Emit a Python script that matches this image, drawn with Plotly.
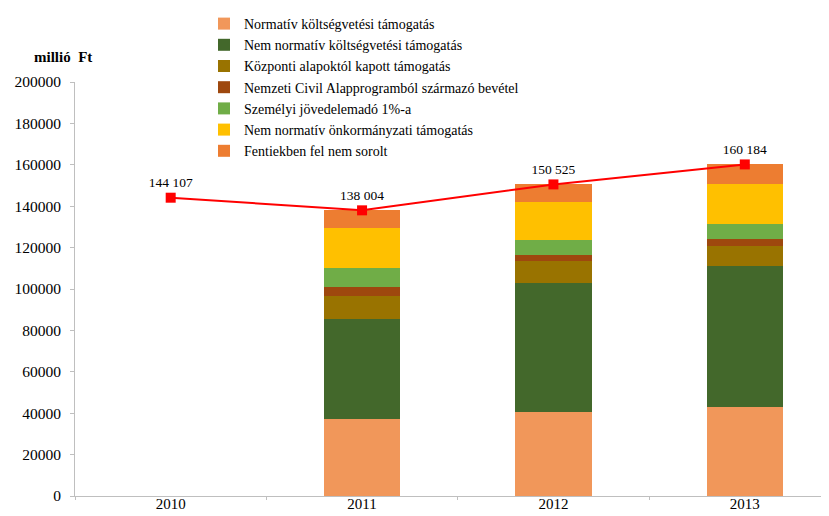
import plotly.graph_objects as go

years = ["2010", "2011", "2012", "2013"]
series_names = [
    "Normatív költségvetési támogatás",
    "Nem normatív költségvetési támogatás",
    "Központi alapoktól kapott támogatás",
    "Nemzeti Civil Alapprogramból származó bevétel",
    "Személyi jövedelemadó 1%-a",
    "Nem normatív önkormányzati támogatás",
    "Fentiekben fel nem sorolt",
]
normativ = [None, 37000, 40400, 43000]
nem_normativ = [None, 48500, 62400, 68100]
kozponti = [None, 11300, 10600, 9800]
nemzeti = [None, 4300, 3000, 3400]
szja = [None, 9200, 7300, 7100]
onkormanyzati = [None, 19000, 18500, 19500]
egyeb = [None, 8704, 8325, 9284]
series_values = [normativ, nem_normativ, kozponti, nemzeti, szja, onkormanyzati, egyeb]
colors = ["#F1975A", "#43682B", "#997300", "#9E480E", "#70AD47", "#FFC000", "#ED7D31"]

totals = [144107, 138004, 150525, 160184]
total_labels = ["144 107", "138 004", "150 525", "160 184"]

FONT = "Liberation Serif, Times New Roman, serif"

fig = go.Figure()
for name, vals, col in zip(series_names, series_values, colors):
    fig.add_trace(go.Bar(x=years, y=vals, name=name, marker=dict(color=col, line=dict(width=0)),
                         width=0.4))

fig.add_trace(go.Scatter(x=years, y=totals, mode="lines+markers+text", showlegend=False,
                         line=dict(color="#FF0000", width=2),
                         marker=dict(symbol="square", size=10, color="#FF0000"),
                         text=total_labels, textposition="top center",
                         textfont=dict(family=FONT, size=13.5, color="#000000")))

# page has an 8px body margin; figure sized so that the plot lands where the reference has it
fig.update_layout(
    barmode="stack",
    width=821, height=508,
    margin=dict(l=67, r=0, t=74, b=20, autoexpand=False),
    plot_bgcolor="white", paper_bgcolor="white",
    font=dict(family=FONT, size=15, color="#000000"),
    legend=dict(x=(204 - 75) / 754, y=1.022, xref="paper", yref="container", xanchor="left", yanchor="top",
                traceorder="normal", font=dict(family=FONT, size=14), bgcolor="rgba(0,0,0,0)",
                itemwidth=30, tracegroupgap=0),
    showlegend=True,
)
fig.update_xaxes(type="category", range=[-0.5, 3.44], showline=True, linecolor="#BFBFBF", linewidth=1,
                 ticks="outside", tickson="boundaries", ticklen=3, tickcolor="#BFBFBF",
                 showgrid=False, tickfont=dict(family=FONT, size=15), ticklabelstandoff=-6)
fig.update_yaxes(range=[0, 200000], dtick=20000, showline=True, linecolor="#BFBFBF", linewidth=1,
                 ticks="outside", ticklen=4, tickcolor="#BFBFBF", showgrid=False, zeroline=False,
                 tickformat="d", tickfont=dict(family=FONT, size=15.5), ticklabelstandoff=6)
fig.add_annotation(text="<b>millió  Ft</b>", x=(63 - 75) / 754, y=(496 - 57) / 414,
                   xref="paper", yref="paper", xanchor="center", yanchor="middle",
                   showarrow=False, font=dict(family=FONT, size=15))

fig.write_html("out.html")
